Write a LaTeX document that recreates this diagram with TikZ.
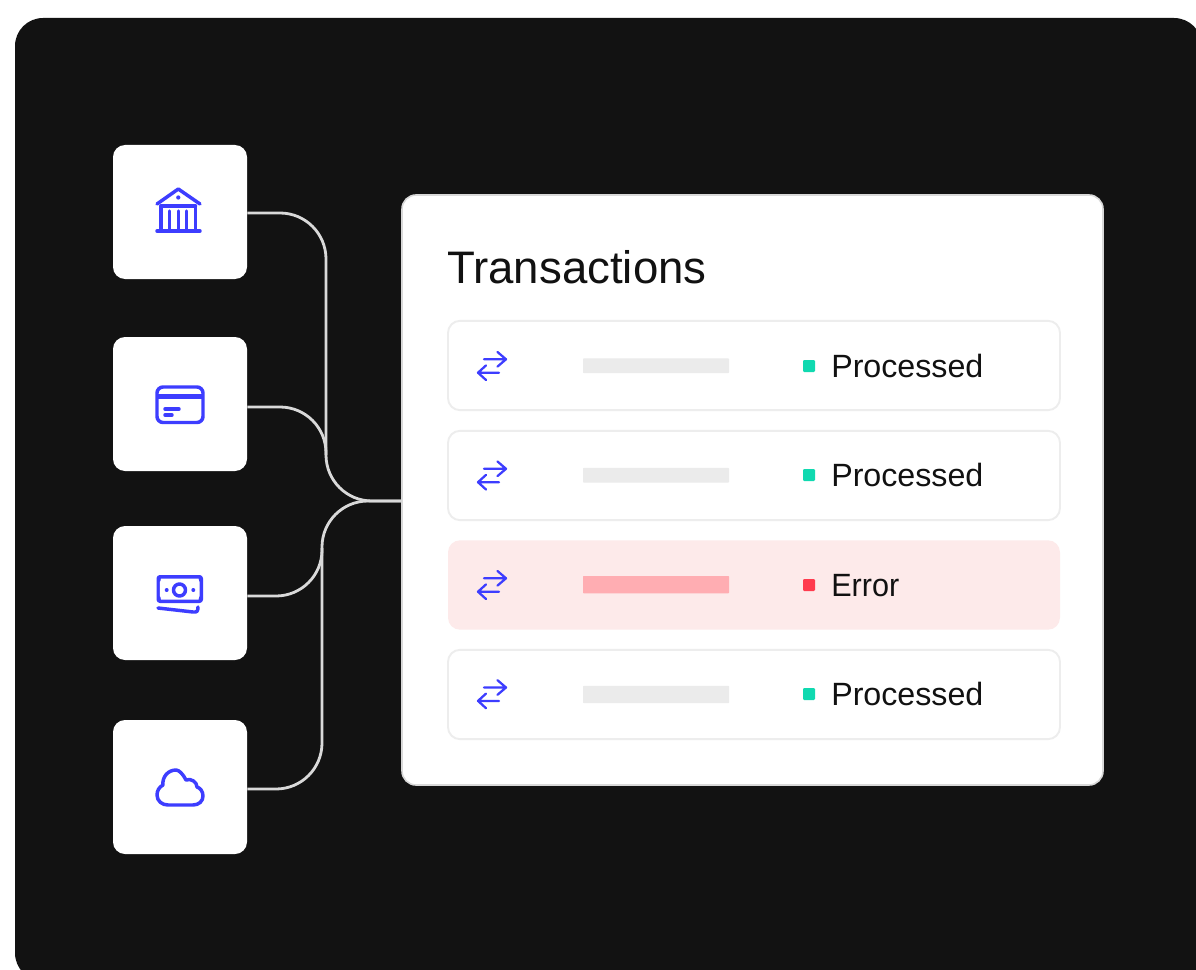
\documentclass[tikz,border=0pt]{standalone}
\usepackage{fontspec}
\usetikzlibrary{calc}
\setmainfont{Liberation Sans}
\newfontfamily\narrowfont[FakeStretch=0.95]{Liberation Sans}
\definecolor{panel}{HTML}{121212}
\definecolor{iconblue}{HTML}{3D3DFF}
\definecolor{okgreen}{HTML}{10D9B0}
\definecolor{errred}{HTML}{FF3B4E}
\definecolor{errbg}{HTML}{FDEAEA}
\definecolor{errbar}{HTML}{FFADB2}
\definecolor{graybar}{HTML}{EBEBEB}
\definecolor{rowline}{HTML}{EDEDED}
\definecolor{wire}{HTML}{D9D9D9}
\definecolor{inkc}{HTML}{111111}
\tikzset{
  x=0.75pt,y=-0.75pt,
  srcbox/.style={fill=white,rounded corners=9pt,minimum width=100.5pt,minimum height=100.5pt,inner sep=0pt,draw=none},
  txcard/.style={fill=white,draw=wire,line width=1.2pt,rounded corners=10.5pt,minimum width=525.75pt,minimum height=442.5pt,inner sep=0pt},
  txrow/.style={fill=white,draw=rowline,line width=1.4pt,rounded corners=9pt,minimum width=459pt,minimum height=67pt,inner sep=0pt},
  errrow/.style={txrow,fill=errbg,draw=none},
  barbox/.style={fill=graybar,rounded corners=0.5pt,minimum width=109.5pt,minimum height=11pt,inner sep=0pt},
  tallbar/.style={barbox,minimum height=13pt},
  errbarbox/.style={tallbar,fill=errbar},
  dotbox/.style={fill=okgreen,rounded corners=0.8pt,minimum size=9pt,inner sep=0pt},
  errdot/.style={dotbox,fill=errred},
  label/.style={text=inkc,anchor=base west,inner sep=0pt,font=\fontsize{24.15}{28}\selectfont},
  errlabel/.style={label,font=\narrowfont\fontsize{24.15}{28}\selectfont},
  titlelabel/.style={text=inkc,anchor=base west,inner sep=0pt,font=\fontsize{34.2}{38}\selectfont},
  icon/.style={draw=iconblue,line width=2.6pt,line cap=round,line join=round},
  wireline/.style={draw=wire,line width=2.1pt},
  pics/xfer/.style={code={
    \draw[draw=iconblue,line width=1.7pt,line cap=round,line join=round]
      (-8,-6.7) -- (14,-6.7) (5.5,-14) -- (14,-6.7) -- (5.5,0.6)
      (7,6.7) -- (-14,6.7) (-6,-0.6) -- (-14,6.7) -- (-6,14);
  }}
}
\begin{document}
\begin{tikzpicture}
\useasboundingbox (0,0) rectangle (1196,970);
\fill[white] (0,0) rectangle (1196,970);
\fill[panel,rounded corners=21pt] (15,18) rectangle (1202,981);

\node[srcbox] (bank) at (180,212) {};
\node[srcbox] (cardsrc) at (180,404) {};
\node[srcbox] (cash) at (180,593) {};
\node[srcbox] (cloud) at (180,787) {};
\node[txcard] (card) at (752.5,490) {};

\coordinate (hub) at ($(card.west)+(0,11)$);
\coordinate (mergeA) at (326,455);
\coordinate (mergeB) at (322,548);
\draw[wireline,rounded corners=34.5pt] ($(bank.east)+(0,1)$) -- (326,213) -- (326,501) -- (hub);
\draw[wireline,rounded corners=34.5pt] ($(cardsrc.east)+(0,3)$) -- (326,407) -- (mergeA);
\draw[wireline,rounded corners=34.5pt] ($(cloud.east)+(0,2)$) -- (322,789) -- (322,501) -- (hub);
\draw[wireline,rounded corners=34.5pt] ($(cash.east)+(0,3)$) -- (322,596) -- (mergeB);

\node[titlelabel] (title) at (447,283) {Transactions};

\node[txrow] (r1) at (754,365.5) {};
\node[txrow] (r2) at (754,475.5) {};
\node[errrow] (r3) at (754,585) {};
\node[txrow] (r4) at (754,694.5) {};

\pic at (492,366) {xfer};
\pic at (492,475.5) {xfer};
\pic at (492,585) {xfer};
\pic at (492,694.2) {xfer};

\node[barbox] (b1) at (656,365.7) {};
\node[barbox] (b2) at (656,475.2) {};
\node[errbarbox] (b3) at (656,584.7) {};
\node[tallbar] (b4) at (656,694.5) {};

\node[dotbox] (d1) at (809,366) {};
\node[dotbox] (d2) at (809,475) {};
\node[errdot] (d3) at (809,585) {};
\node[dotbox] (d4) at (809,694) {};

\node[label] (l1) at (831,377) {Processed};
\node[label] (l2) at (831,486) {Processed};
\node[errlabel] (l3) at (831,596) {Error};
\node[label] (l4) at (831,705) {Processed};

% bank icon
\draw[icon] (157,204) -- (178.3,189) -- (200,204);
\draw[icon] (161,206) -- (195.5,206);
\draw[icon] (161,206) -- (161,231) (169.3,211) -- (169.3,231) (178.3,211) -- (178.3,231) (186.7,211) -- (186.7,231) (195.5,206) -- (195.5,231);
\draw[icon] (157,231) -- (200,231);
\fill[iconblue] (178.3,197.5) circle (1.6pt);

% card icon
\draw[icon,rounded corners=4.5pt] (157,387) rectangle (203,422.5);
\draw[icon,line cap=butt,line width=3.8pt] (157,396.5) -- (203,396.5);
\draw[icon] (165,409) -- (179,409) (165,415) -- (172,415);

% cash icon
\fill[iconblue,rounded corners=2.5pt] (156.5,575) rectangle (203,603);
\fill[white] (161,578.5) -- (198.5,578.5) .. controls (198.5,580.5) and (199.5,582) .. (199.7,582)
  -- (199.7,596) .. controls (199.5,596) and (198.5,597.5) .. (198.5,599.5)
  -- (161,599.5) .. controls (161,597.5) and (160,596) .. (159.8,596)
  -- (159.8,582) .. controls (160,582) and (161,580.5) .. (161,578.5) -- cycle;
\draw[icon] (179.5,590) circle (4.5pt);
\fill[iconblue] (166.7,590) circle (1.5pt) (193.3,590) circle (1.5pt);
\draw[icon] (158,608) -- (193,612) .. controls (197,612.5) and (198,611) .. (198,607);

% cloud icon
\draw[icon] (168,805) -- (193,805)
  .. controls (199,805) and (203,801) .. (203,796)
  .. controls (203,791) and (200,788) .. (197,787)
  .. controls (197,782) and (191,778) .. (186,780)
  .. controls (183,774) and (179,770) .. (176,770)
  .. controls (168,770) and (162,777) .. (163,785)
  .. controls (159,787) and (157,791) .. (157,795)
  .. controls (157,801) and (162,805) .. (168,805) -- cycle;
\end{tikzpicture}
\end{document}
